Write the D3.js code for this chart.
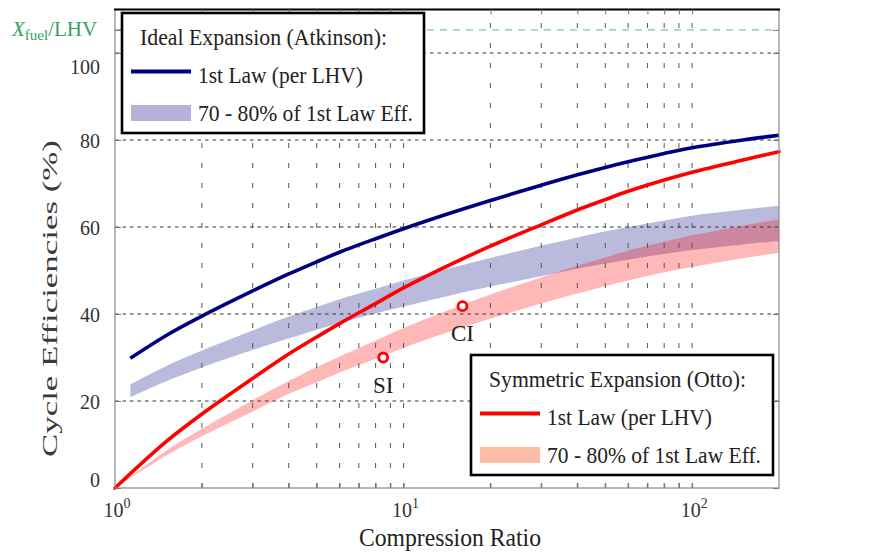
<!DOCTYPE html>
<html><head><meta charset="utf-8">
<script src="https://cdn.jsdelivr.net/npm/d3@7/dist/d3.min.js"></script>
<style>html,body{margin:0;padding:0;background:#fff;}svg{display:block;font-family:"Liberation Serif","Times New Roman",serif;}svg text{font-family:"Liberation Serif","Times New Roman",serif;}</style>
</head><body>
<svg id="chart" width="887" height="553"></svg>
<script>
// ---- data ----
const atkinsonRatio = [1.13, 1.5, 2, 3, 4, 5, 6, 8, 10, 15, 20, 30, 40, 50, 60, 80, 100, 150, 200];
const atkinsonEff   = [29.8, 35.0, 39.5, 45.3, 49.2, 52.0, 54.2, 57.3, 59.6, 63.5, 66.1, 69.6, 72.0, 73.7, 75.0, 76.9, 78.2, 80.0, 81.1];
const atkinsonLow   = [20.9, 24.5, 27.7, 31.7, 34.4, 36.4, 37.9, 40.1, 41.7, 44.5, 46.3, 48.7, 50.4, 51.6, 52.5, 53.8, 54.7, 56.0, 56.8];
const atkinsonHigh  = [23.8, 28.0, 31.6, 36.2, 39.4, 41.6, 43.4, 45.8, 47.7, 50.8, 52.9, 55.7, 57.6, 59.0, 60.0, 61.5, 62.6, 64.0, 64.9];
const ottoRatio = [1, 1.5, 2, 3, 4, 5, 6, 8, 10, 15, 20, 30, 40, 50, 60, 80, 100, 150, 200];
const ottoEff   = [0, 10.6, 17.0, 25.2, 30.8, 34.7, 37.8, 42.4, 46.0, 51.8, 55.6, 60.5, 63.9, 66.3, 68.2, 70.8, 72.6, 75.4, 77.3];
const ottoLow   = [0, 7.4, 11.9, 17.6, 21.6, 24.3, 26.5, 29.7, 32.2, 36.3, 38.9, 42.4, 44.7, 46.4, 47.7, 49.6, 50.8, 52.8, 54.1];
const ottoHigh  = [0, 8.5, 13.6, 20.2, 24.6, 27.8, 30.2, 33.9, 36.8, 41.4, 44.5, 48.4, 51.1, 53.0, 54.6, 56.6, 58.1, 60.3, 61.8];
const pointLabels = ["SI", "CI"];
const pointRatio  = [8.5, 16];
const pointEff    = [30.0, 41.8];
const xfuelLevel = 105.3;
const yTicks = [0, 20, 40, 60, 80, 100];
const xMajorTicks = [1, 10, 100];
const xMinorTicks = [2,3,4,5,6,7,8,9,10,20,30,40,50,60,70,80,90,100];
const xLabel = "Compression Ratio";
const yLabel = "Cycle Efficiencies (%)";

// ---- scales ----
const svg = d3.select("#chart");
const L = 115, R = 779, T = 9.5, B = 488;
const x = d3.scaleLog().domain([1, 200]).range([L, R]);
const y = d3.scaleLinear().domain([0, 110]).range([B, T]);

svg.append("defs").append("clipPath").attr("id","plotclip")
  .append("rect").attr("x",L).attr("y",T).attr("width",R-L).attr("height",B-T);
const plot = svg.append("g").attr("clip-path","url(#plotclip)");

const curve = d3.curveCatmullRom.alpha(0.5);
const atk = atkinsonRatio.map((r,i)=>({r, v:atkinsonEff[i], lo:atkinsonLow[i], hi:atkinsonHigh[i]}));
const otto = ottoRatio.map((r,i)=>({r, v:ottoEff[i], lo:ottoLow[i], hi:ottoHigh[i]}));
const area = d3.area().x(d=>x(d.r)).y0(d=>y(d.lo)).y1(d=>y(d.hi)).curve(curve);
plot.append("path").datum(atk).attr("d",area).attr("fill","#000080").attr("fill-opacity",0.27);
plot.append("path").datum(otto).attr("d",area).attr("fill","#ff0000").attr("fill-opacity",0.28);

// grid
plot.append("g").selectAll("line").data(xMinorTicks).join("line")
  .attr("x1",d=>x(d)).attr("x2",d=>x(d)).attr("y1",B).attr("y2",T)
  .attr("stroke","#555").attr("stroke-width",1).attr("stroke-dasharray","5,15");
plot.append("g").selectAll("line").data(yTicks.filter(d=>d>0)).join("line")
  .attr("x1",L).attr("x2",R).attr("y1",d=>y(d)).attr("y2",d=>y(d))
  .attr("stroke","#333").attr("stroke-width",1).attr("stroke-dasharray","3.5,4");
plot.append("line").attr("x1",L).attr("x2",R).attr("y1",y(xfuelLevel)).attr("y2",y(xfuelLevel))
  .attr("stroke","#7ccb9c").attr("stroke-width",1.2).attr("stroke-dasharray","7,6");

// lines
const line = d3.line().x(d=>x(d.r)).y(d=>y(d.v)).curve(curve);
svg.append("path").datum(atk).attr("d",line).attr("fill","none").attr("stroke","#00007f").attr("stroke-width",3.6);
svg.append("path").datum(otto).attr("d",line).attr("fill","none").attr("stroke","#ff0000").attr("stroke-width",3.6).attr("stroke-linecap","round");

// frame & ticks
svg.append("rect").attr("x",L).attr("y",T).attr("width",R-L).attr("height",B-T)
  .attr("fill","none").attr("stroke","#8a8a8a").attr("stroke-width",1.2);
svg.append("line").attr("x1",L-1).attr("x2",R+1).attr("y1",T).attr("y2",T).attr("stroke","#000").attr("stroke-width",2);

const gLeft = svg.append("g").attr("transform",`translate(${L},0)`)
  .call(d3.axisLeft(y).tickValues(yTicks.concat([xfuelLevel])).tickSize(-6).tickPadding(15).tickFormat(d=>d===xfuelLevel?"":d));
gLeft.attr("font-family",null);
gLeft.select(".domain").remove();
gLeft.selectAll(".tick line").attr("stroke","#777");
gLeft.selectAll(".tick text").style("font-size","22px").attr("fill","#333")
  .attr("textLength", d => d===xfuelLevel ? null : String(d).length*10)
  .attr("lengthAdjust","spacingAndGlyphs")
  .attr("dy", d => d===100 ? "0.95em" : d===0 ? "-0.05em" : "0.35em");
const gRight = svg.append("g").attr("transform",`translate(${R},0)`)
  .call(d3.axisRight(y).tickValues(yTicks.concat([xfuelLevel])).tickSize(-6).tickFormat(""));
gRight.select(".domain").remove();
gRight.selectAll(".tick line").attr("stroke","#777");

const gBottom = svg.append("g").attr("transform",`translate(0,${B})`)
  .call(d3.axisBottom(x).tickValues(xMinorTicks).tickSize(-5).tickFormat(""));
gBottom.select(".domain").remove();
gBottom.selectAll(".tick line").attr("stroke","#777");
const gTop = svg.append("g").attr("transform",`translate(0,${T})`)
  .call(d3.axisTop(x).tickValues(xMinorTicks).tickSize(-5).tickFormat(""));
gTop.select(".domain").remove();
gTop.selectAll(".tick line").attr("stroke","#777");

// bottom major labels 10^n
const xl = svg.append("g").selectAll("text").data(xMajorTicks).join("text")
  .attr("x",d=>x(d)+2).attr("y",517).attr("text-anchor","middle")
  .style("font-size","20px").attr("fill","#333");
xl.append("tspan").text("10");
xl.append("tspan").style("font-size","14px").attr("dy",-9).text(d=>Math.round(Math.log10(d)));

// Xfuel/LHV label
const xf = svg.append("text").attr("x",12).attr("y",y(xfuelLevel)+6.5).attr("fill","#35a265").style("font-size","21px");
xf.append("tspan").attr("font-style","italic").text("X");
xf.append("tspan").style("font-size","15px").attr("dy",4).text("fuel");
xf.append("tspan").attr("dy",-4).text("/LHV");

// axis titles
svg.append("text").attr("x",450).attr("y",546).attr("text-anchor","middle")
  .style("font-size","25px").attr("fill","#222").attr("textLength",182).attr("lengthAdjust","spacingAndGlyphs").text(xLabel);
svg.append("text").attr("transform","translate(57,298.5) rotate(-90)").attr("text-anchor","middle")
  .style("font-size","22px").attr("fill","#3a3a3a").attr("textLength",317).attr("lengthAdjust","spacingAndGlyphs").text(yLabel);

// points
const pts = pointLabels.map((l,i)=>({l, r:pointRatio[i], v:pointEff[i]}));
svg.append("g").selectAll("circle").data(pts).join("circle")
  .attr("cx",d=>x(d.r)).attr("cy",d=>y(d.v)).attr("r",4.5)
  .attr("fill","#fff").attr("stroke","#ff0000").attr("stroke-width",2.8);
svg.append("g").selectAll("text").data(pts).join("text")
  .attr("x",d=>x(d.r)).attr("y",d=>y(d.v)+35).attr("text-anchor","middle")
  .style("font-size","23px").attr("fill","#222").text(d=>d.l);

// legends
function legend(bx, by, bw, bh, title, titleLen, lineColor, swatchColor, t1Len, t2Len) {
  const g = svg.append("g");
  g.append("rect").attr("x",bx).attr("y",by).attr("width",bw).attr("height",bh)
    .attr("fill","#fff").attr("stroke","#000").attr("stroke-width",2.6);
  g.append("text").attr("x",bx+18).attr("y",by+32).style("font-size","24px").attr("fill","#222")
    .attr("textLength",titleLen).attr("lengthAdjust","spacingAndGlyphs").text(title);
  g.append("line").attr("x1",bx+9).attr("x2",bx+69).attr("y1",by+58.5).attr("y2",by+58.5)
    .attr("stroke",lineColor).attr("stroke-width",4);
  g.append("text").attr("x",bx+76).attr("y",by+70).style("font-size","24px").attr("fill","#222")
    .attr("textLength",t1Len).attr("lengthAdjust","spacingAndGlyphs").text("1st Law (per LHV)");
  g.append("rect").attr("x",bx+9).attr("y",by+92).attr("width",60).attr("height",16).attr("fill",swatchColor);
  g.append("text").attr("x",bx+76).attr("y",by+108).style("font-size","24px").attr("fill","#222")
    .attr("textLength",t2Len).attr("lengthAdjust","spacingAndGlyphs").text("70 - 80% of 1st Law Eff.");
}
legend(122, 13, 302, 120, "Ideal Expansion (Atkinson):", 247, "#00007f", "#b9afd8", 165, 215);
legend(471, 355, 302, 120, "Symmetric Expansion (Otto):", 257, "#ff0000", "#fcbda6", 165, 214);
</script>
</body></html>
